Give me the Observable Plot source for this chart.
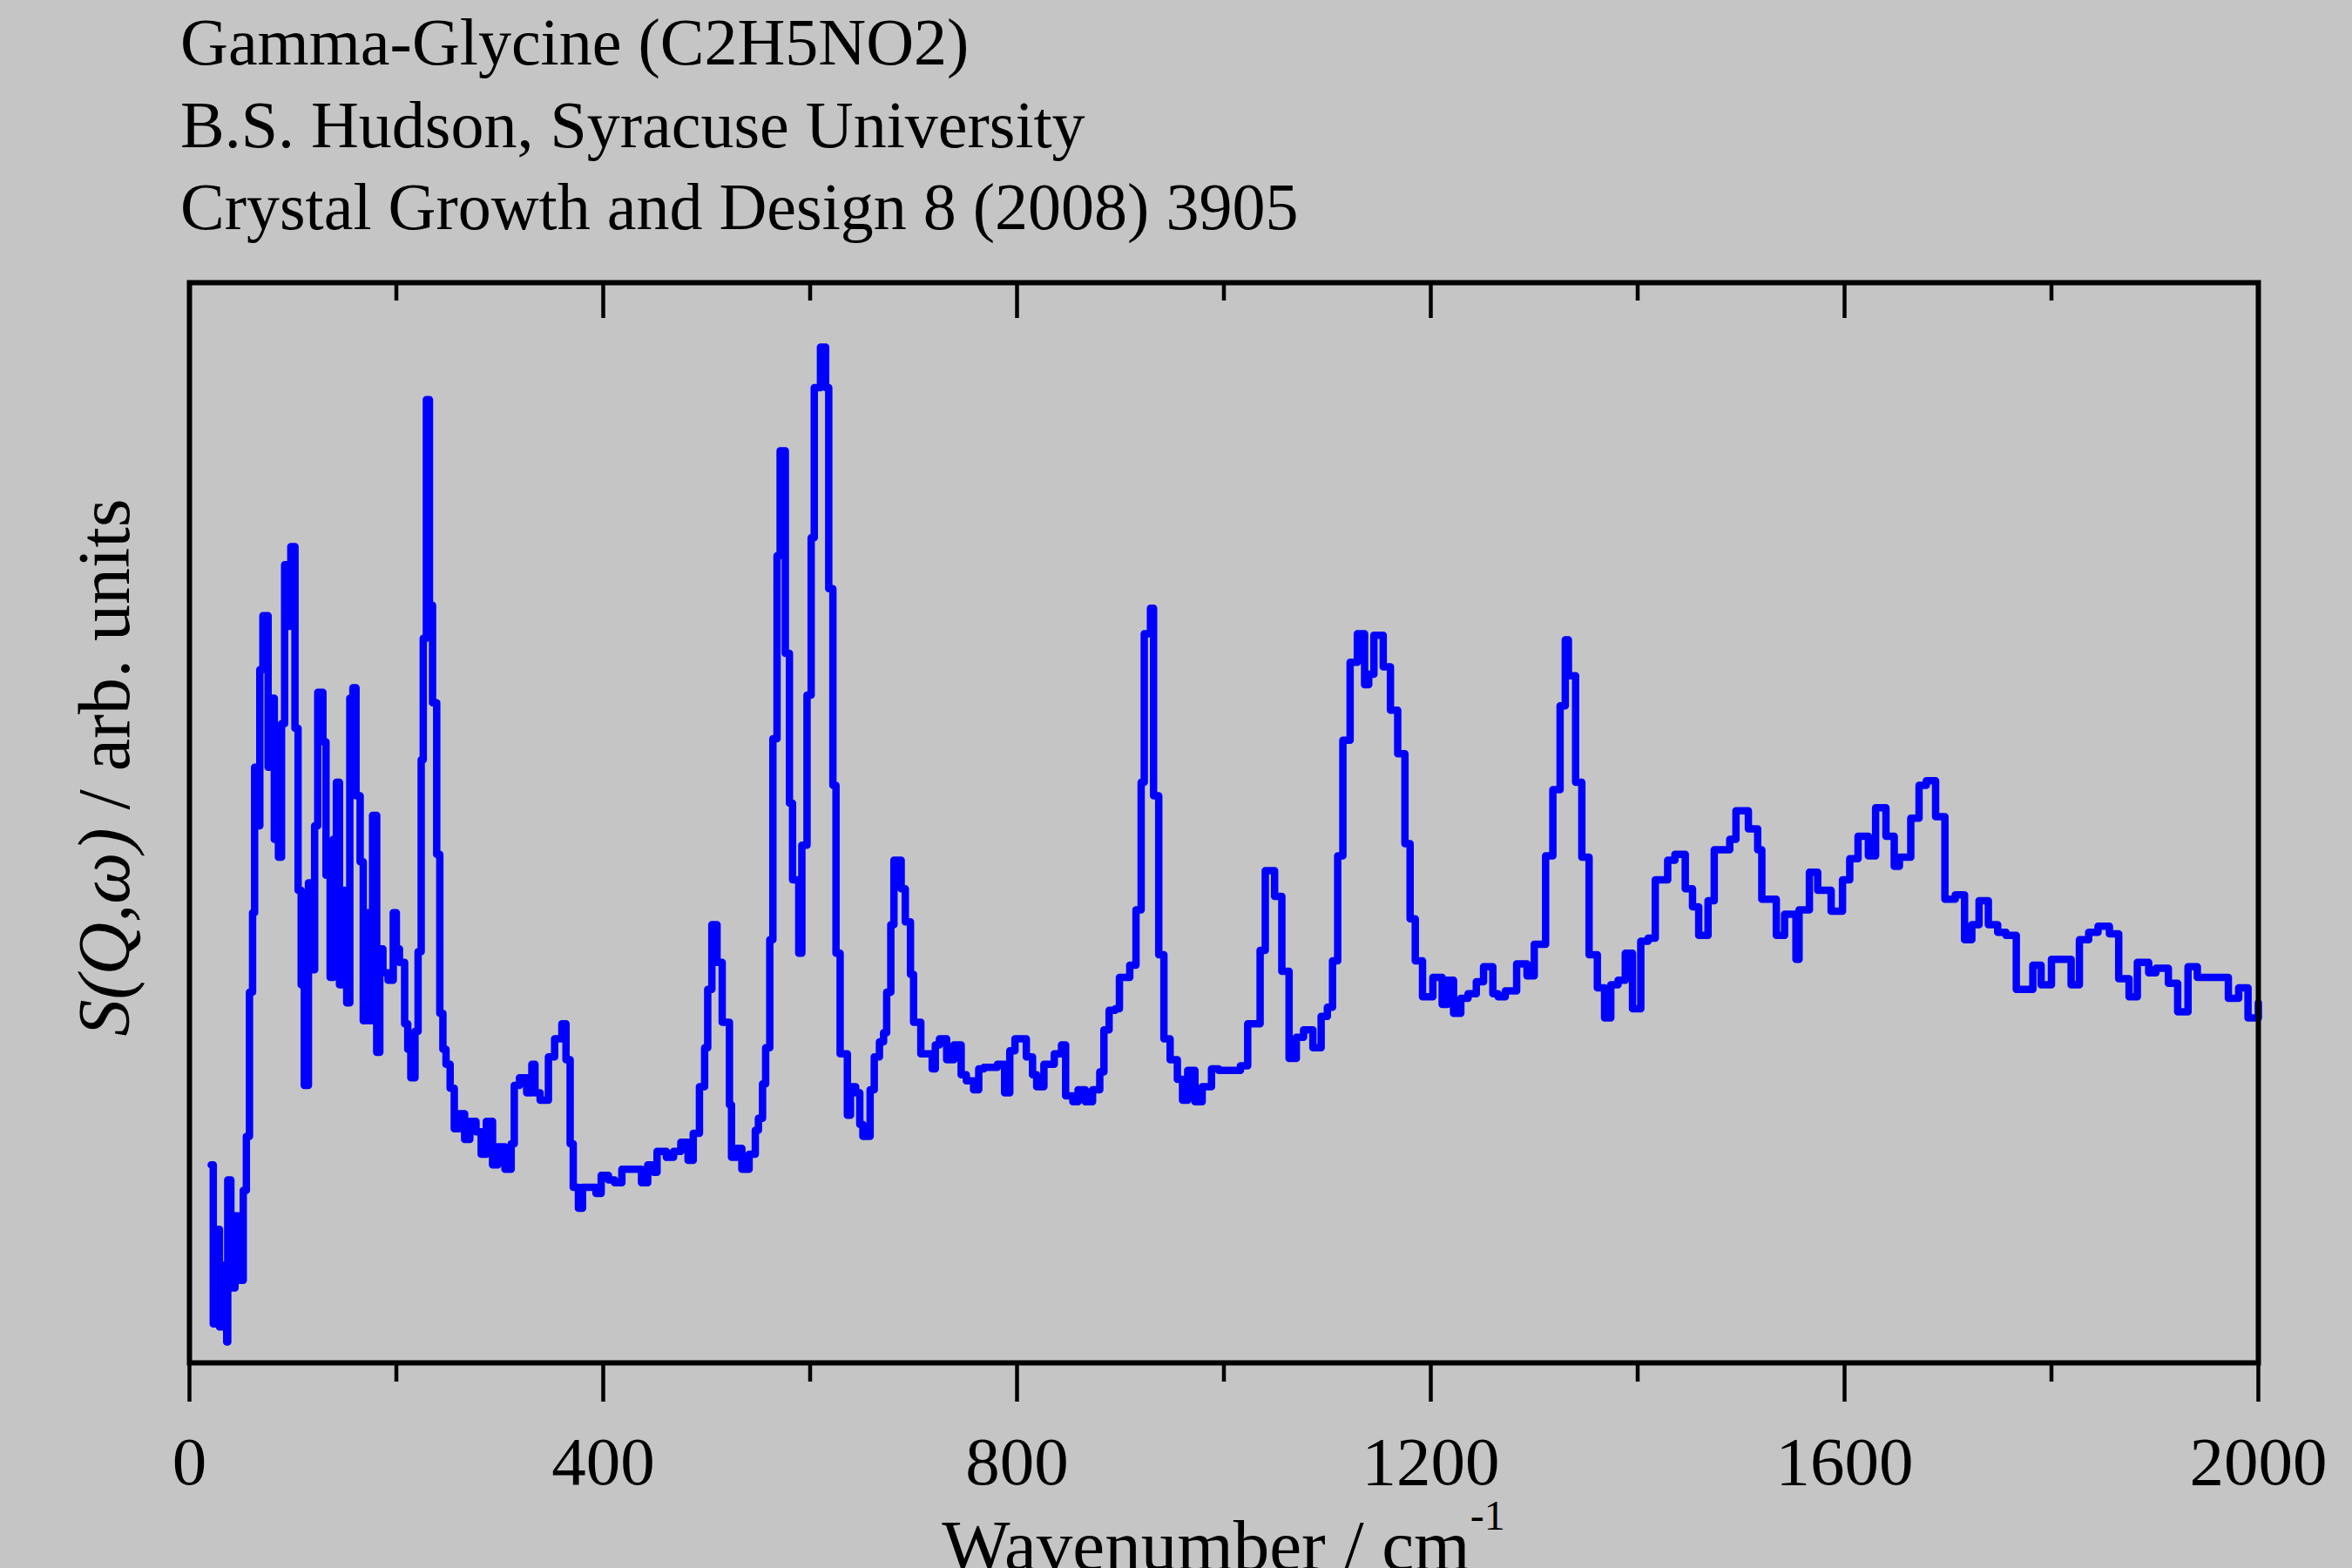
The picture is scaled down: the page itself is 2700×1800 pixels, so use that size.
<!DOCTYPE html>
<html>
<head>
<meta charset="utf-8">
<script src="https://cdn.jsdelivr.net/npm/d3@7"></script>
<script src="https://cdn.jsdelivr.net/npm/@observablehq/plot@0.6"></script>
<style>
  html, body { margin: 0; padding: 0; background: #c5c5c5; overflow: hidden; }
</style>
</head>
<body>
<div id="chart"></div>
<script>
// ---- Text ----
const titleLines = [
  "Gamma-Glycine (C2H5NO2)",
  "B.S. Hudson, Syracuse University",
  "Crystal Growth and Design 8 (2008) 3905"
];
const xLabel = "Wavenumber / cm";
const xLabelSup = "-1";
const yLabelItalic = "S(Q,\u03C9)";
const yLabelRest = " / arb. units";

// ---- Ticks ----
const majorTicks = [0, 400, 800, 1200, 1600, 2000];
const minorTicks = [200, 600, 1000, 1400, 1800];

// ---- Spectrum (step starts, wavenumber in cm-1, intensity in arb. units) ----
const wavenumber = [
  21,23,26,29,32,36,37,40,44,48,52,55,58,61,63,66,68,71,76,79,
  82,86,89,92,95,98,102,105,108,111,115,118,121,124,129,132,136,139,142,145,
  148,152,155,158,161,165,168,171,174,177,181,184,187,192,197,200,203,208,211,214,
  218,221,224,226,229,232,235,239,242,245,248,252,256,261,266,271,277,282,287,293,
  298,305,311,314,319,326,331,334,339,347,353,360,364,368,371,376,380,393,398,405,
  411,418,437,443,
  449,452,461,468,475,482,487,493,498,501,505,510,515,522,524,529,534,541,547,550,
  554,557,561,564,568,571,576,580,583,589,592,597,601,604,610,615,618,622,625,629,
  636,639,644,648,651,658,662,667,671,674,678,681,688,692,697,700,707,718,721,725,
  732,739,746,751,758,763,768,781,788,793,798,809,815,819,826,836,843,847,854,859,
  866,873,880,884,889,
  895,899,909,915,920,923,929,932,937,942,948,955,960,965,972,979,988,995,1016,1023,
  1035,1040,1049,1056,1063,1070,1077,1086,1094,1100,1105,1110,1115,1122,1129,1136,1140,1145,1154,1161,
  1168,1175,1180,1185,1192,1202,1211,1216,1222,1229,1236,1244,1251,1260,1265,1272,1283,1293,1300,1311,
  1318,1325,1330,1333,1340,1346,1353,1361,1368,1374,1381,1388,1395,1403,1410,
  1417,1429,1436,1446,1453,1459,1468,1474,1489,1495,1507,1516,1520,1534,1542,1553,1556,1566,1574,1587,
  1598,1605,1613,1623,1630,1640,1648,1653,1664,1672,1679,1688,1697,1707,1716,1723,1730,1739,1748,1756,
  1766,1782,1790,1800,1819,1827,1836,1845,1856,1865,1875,1883,1894,1901,1913,1922,1932,1941,1971,1981,
  1990,2000
];
const intensity = [
  132,26,89,24,65,14,122,50,98,55,115,151,247,300,397,358,462,498,397,443,
  349,337,426,532,491,544,423,315,252,185,320,262,358,447,414,325,257,349,387,252,
  315,240,443,450,378,334,228,300,228,365,207,276,260,255,300,276,267,226,209,190,
  221,274,402,483,642,505,440,339,233,209,199,183,156,166,149,161,154,139,161,132,
  144,129,146,185,190,180,199,180,175,204,216,226,202,146,117,103,117,113,125,122,
  120,129,120,132,
  127,141,137,141,147,135,153,184,210,249,292,267,227,172,137,143,129,139,155,163,
  186,210,282,416,538,608,473,373,322,273,345,445,550,650,677,650,516,385,273,206,
  165,184,180,159,151,182,204,214,220,247,292,335,316,294,259,227,206,196,212,216,
  202,212,192,188,182,196,197,199,180,208,216,204,192,184,199,206,212,178,174,182,
  174,182,194,222,235,
  236,257,265,302,387,486,503,378,272,216,202,189,175,195,174,184,196,195,198,226,
  275,328,311,261,203,217,222,210,231,237,268,338,415,467,486,452,459,485,464,435,
  406,346,296,268,244,257,239,255,233,243,246,254,264,246,244,248,266,258,279,338,
  382,438,482,458,387,337,272,250,230,252,255,273,236,281,283,
  322,335,339,316,304,285,308,342,349,368,356,342,309,285,299,269,302,327,315,301,
  322,336,351,338,370,351,331,337,363,385,388,364,309,312,282,292,308,292,287,285,
  249,265,252,269,252,282,287,291,286,256,244,267,260,263,253,234,264,257,243,250,
  230,240
];

const spectrum = wavenumber.map((w, i) => ({w, s: intensity[i]}));

// ---- Layout ----
const W = 2700, H = 1800;
const mt = 324, mb = 236, ml = 217, mr = 108;
const ph = H - mt - mb;
const font = "'Liberation Serif', 'Times New Roman', serif";
const bg = "#c5c5c5";

const plot = Plot.plot({
  width: W,
  height: H,
  marginTop: mt,
  marginBottom: mb,
  marginLeft: ml,
  marginRight: mr,
  style: {background: bg, fontFamily: font, color: "#000", overflow: "visible"},
  x: {domain: [0, 2000], axis: null},
  y: {domain: [0, 720], axis: null},
  marks: [
    Plot.line(spectrum, {x: "w", y: "s", curve: "step-after", stroke: "#0000ff", strokeWidth: 8.5, strokeLinejoin: "round", strokeLinecap: "round"}),
    // inward ticks on the top edge
    Plot.tickX(majorTicks, {x: d => d, stroke: "#000", strokeWidth: 4.5, insetBottom: ph - 41}),
    Plot.tickX(minorTicks, {x: d => d, stroke: "#000", strokeWidth: 4.5, insetBottom: ph - 21}),
    // outward minor ticks on the bottom edge
    Plot.tickX(minorTicks, {x: d => d, stroke: "#000", strokeWidth: 4.5, insetTop: ph, insetBottom: -22}),
    // bottom axis with major ticks and labels
    Plot.axisX({ticks: majorTicks, anchor: "bottom", tickSize: 45, tickPadding: 38, strokeWidth: 4.5, fontSize: 79, tickFormat: "d", label: null}),
    Plot.frame({stroke: "#000", strokeWidth: 6})
  ]
});

const svg = d3.select(plot);
titleLines.forEach((t, i) => {
  svg.append("text")
    .attr("x", 207).attr("y", 74 + i * 94.5)
    .attr("text-anchor", "start")
    .attr("font-family", font).attr("font-size", 76).attr("fill", "#000")
    .text(t);
});

const xl = svg.append("text")
  .attr("x", ml + (W - ml - mr) / 2).attr("y", 1802)
  .attr("text-anchor", "middle")
  .attr("font-family", font).attr("font-size", 83).attr("fill", "#000");
xl.append("tspan").text(xLabel);
xl.append("tspan").attr("dy", -46).attr("font-size", 48).text(xLabelSup);

const yl = svg.append("text")
  .attr("transform", "translate(148,881) rotate(-90)")
  .attr("text-anchor", "middle")
  .attr("font-family", font).attr("font-size", 84).attr("fill", "#000");
yl.append("tspan").attr("font-style", "italic").text(yLabelItalic);
yl.append("tspan").text(yLabelRest);

document.getElementById("chart").appendChild(plot);
</script>
</body>
</html>
